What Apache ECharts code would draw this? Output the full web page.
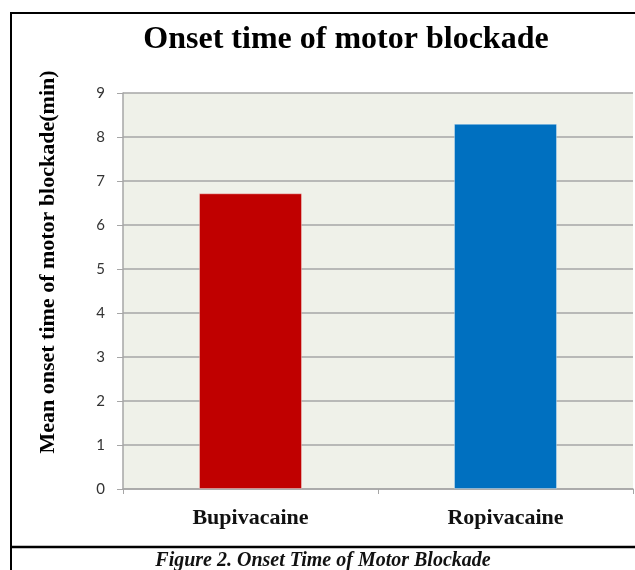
<!DOCTYPE html>
<html>
<head>
<meta charset="utf-8">
<script src="https://cdn.jsdelivr.net/npm/echarts@6/dist/echarts.min.js"></script>
<style>
  html, body { margin: 0; padding: 0; background: #fff; }
  #chart { width: 635px; height: 570px; }
</style>
</head>
<body>
<div id="chart"></div>
<script>
// data
var drugs = ['Bupivacaine', 'Ropivacaine'];
var onsetMin = [6.72, 8.3];
var barColors = ['#c00000', '#0070c0'];
var yTicks = [0, 1, 2, 3, 4, 5, 6, 7, 8, 9];

var myChart = echarts.init(document.getElementById('chart'));

var option = {
    animation: false,
    backgroundColor: '#fff',
    title: [{
        text: 'Onset time of motor blockade',
        left: 341,
        top: 19,
        textAlign: 'center',
        textStyle: {
            fontFamily: 'Liberation Serif',
            fontWeight: 'bold',
            fontSize: 32,
            color: '#000'
        }
    }, {
        // figure caption under the chart box
        text: 'Figure 2. Onset Time of Motor Blockade',
        left: 318,
        top: 546,
        textAlign: 'center',
        textStyle: {
            fontFamily: 'Liberation Serif',
            fontWeight: 'bold',
            fontStyle: 'italic',
            fontSize: 20,
            color: '#111'
        }
    }],
    grid: {
        left: 123,
        right: 2,
        top: 93,
        bottom: 81,
        show: true,
        backgroundColor: '#eff1e9',
        borderWidth: 0
    },
    xAxis: {
        type: 'category',
        data: drugs,
        axisLine: { lineStyle: { color: '#a6a6a6', width: 1.5 } },
        axisTick: { show: true, length: 5, lineStyle: { color: '#a6a6a6' } },
        axisLabel: {
            margin: 18,
            fontFamily: 'Liberation Serif',
            fontWeight: 'bold',
            fontSize: 22,
            color: '#111'
        }
    },
    yAxis: {
        type: 'value',
        min: yTicks[0],
        max: yTicks[yTicks.length - 1],
        interval: 1,
        name: 'Mean onset time of motor blockade(min)',
        nameLocation: 'middle',
        nameRotate: 90,
        nameGap: 64,
        nameTextStyle: {
            fontFamily: 'Liberation Serif',
            fontWeight: 'bold',
            fontSize: 22,
            color: '#000',
            padding: [0, 0, 0, 58]
        },
        axisLine: { show: true, lineStyle: { color: '#a6a6a6', width: 1.5 } },
        axisTick: { show: true, length: 6, lineStyle: { color: '#a6a6a6' } },
        splitLine: { lineStyle: { color: '#a6a6a6', width: 1.5 } },
        axisLabel: {
            margin: 18,
            fontFamily: 'Lato',
            fontSize: 15,
            color: '#333'
        }
    },
    series: [{
        type: 'bar',
        barWidth: 103,
        data: onsetMin.map(function (v, i) {
            return {
                value: v,
                itemStyle: {
                    color: barColors[i],
                    borderColor: 'rgba(255,255,255,0.35)',
                    borderWidth: 1
                }
            };
        })
    }],
    graphic: [{
        // outer frame of the figure
        type: 'rect',
        shape: { x: 11, y: 13, width: 640, height: 570 },
        style: { fill: null, stroke: '#000', lineWidth: 2 },
        silent: true
    }, {
        type: 'line',
        shape: { x1: 11, y1: 547, x2: 640, y2: 547 },
        style: { stroke: '#000', lineWidth: 2.5 },
        silent: true
    }]
};

myChart.setOption(option);
</script>
</body>
</html>
